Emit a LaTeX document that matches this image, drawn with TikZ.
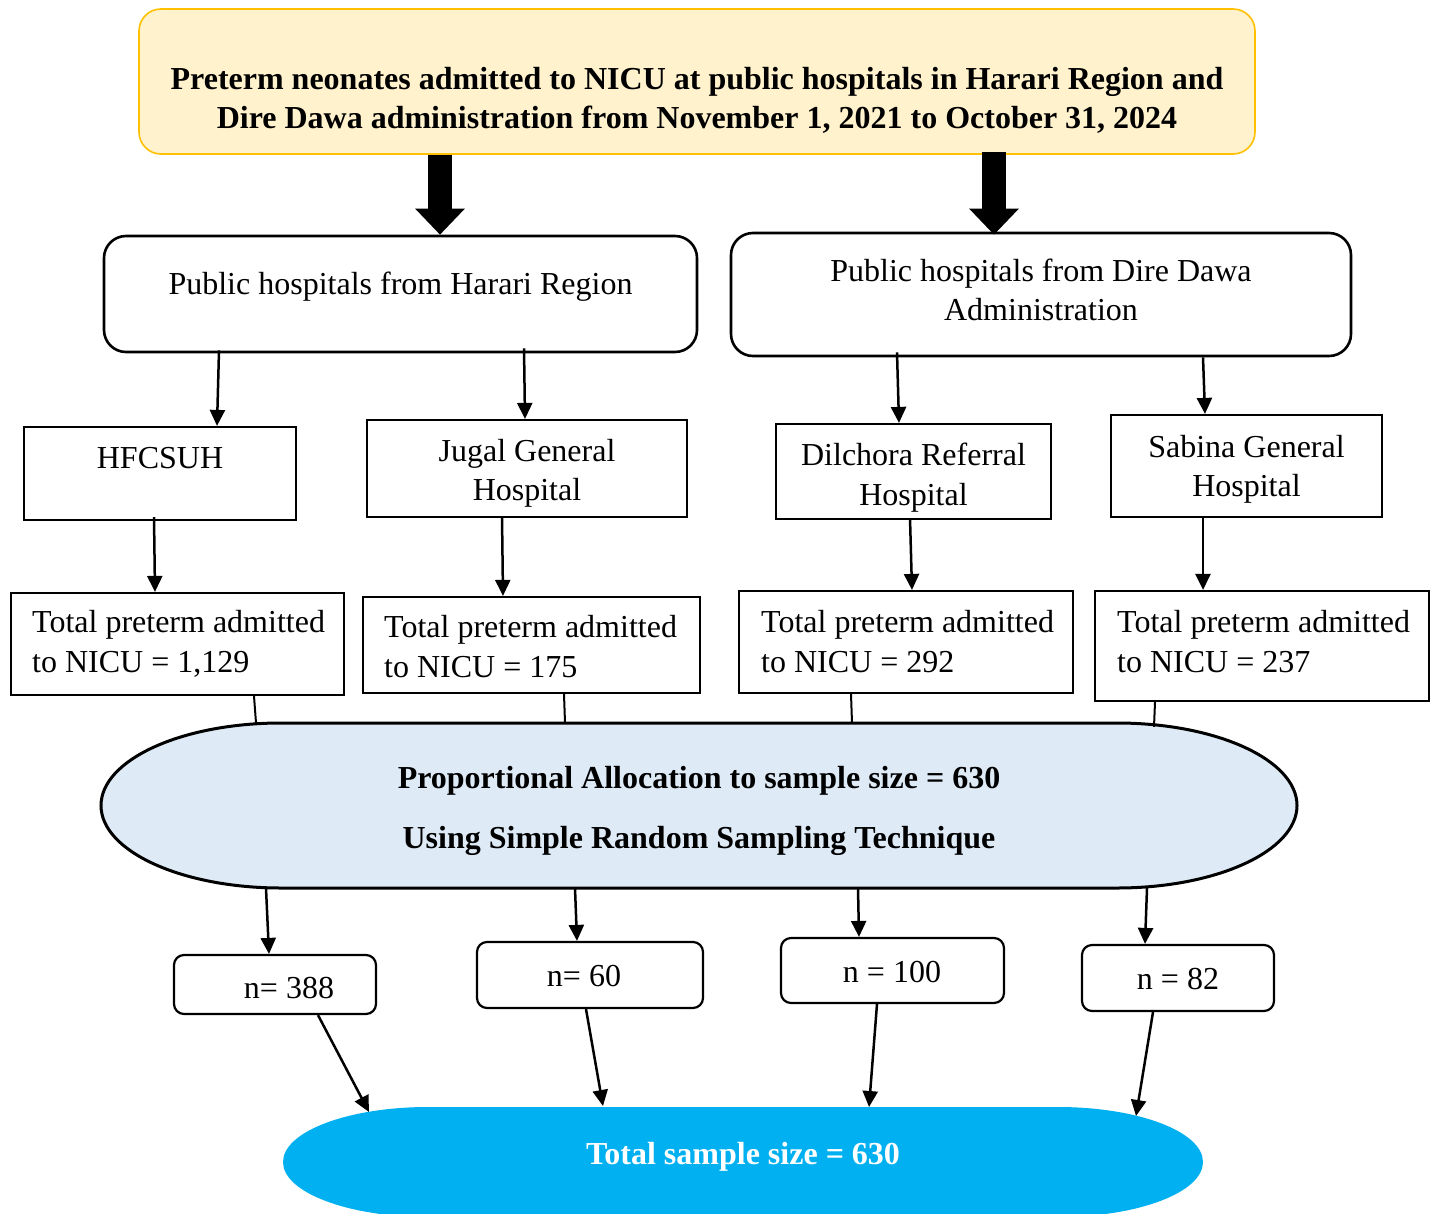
\documentclass[tikz,border=0pt]{standalone}
\usepackage{fontspec}
\setmainfont{Liberation Serif}
\usetikzlibrary{arrows.meta}
\definecolor{topfill}{HTML}{FFF2CC}
\definecolor{topline}{HTML}{FFC000}
\definecolor{allocfill}{HTML}{DEEBF7}
\definecolor{totfill}{HTML}{00B0F0}
\tikzset{
  every node/.style={font=\fontsize{32}{39.5}\selectfont},
  sqbox/.style={draw, line width=2.2pt, inner sep=0pt},
  rndbox/.style={draw, line width=2.6pt, rounded corners=22pt, inner sep=0pt},
  nbox/.style={draw, line width=2.2pt, rounded corners=10pt, inner sep=0pt},
  txt/.style={inner sep=0pt, align=center},
  ltxt/.style={inner sep=0pt, align=left},
  arr/.style={line width=2.5pt, -{Triangle[width=15pt,length=16pt]}},
  plainline/.style={line width=2pt},
  bigarrow/.style={line width=24pt, -{Triangle[width=48pt,length=26pt]}},
}
\begin{document}
\begin{tikzpicture}[x=1pt,y=-1pt]
\useasboundingbox (0,0) rectangle (1432,1213);
% top box
\node[draw=topline, fill=topfill, line width=1.6pt, rounded corners=22pt,
      minimum width=1116pt, minimum height=145pt, inner sep=0pt] (top) at (697,81.5) {};
\node[txt, font=\fontsize{32}{39.5}\selectfont\bfseries] (topT) at (697,100.5)
  {Preterm neonates admitted to NICU at public hospitals in Harari Region and\\
   Dire Dawa administration from November 1, 2021 to October 31, 2024};
% region boxes
\node[rndbox, minimum width=593pt, minimum height=116pt] (harari) at (400.5,294) {};
\node[txt] (harariT) at (400.5,287) {Public hospitals from Harari Region};
\node[rndbox, minimum width=620pt, minimum height=123pt] (dd) at (1041,294.5) {};
\node[txt] (ddT) at (1041,290) {Public hospitals from Dire Dawa\\Administration};
% hospitals
\node[sqbox, minimum width=272pt, minimum height=93pt] (hf) at (160,473.5) {};
\node[txt] (hfT) at (160,458) {HFCSUH};
\node[sqbox, minimum width=320pt, minimum height=97pt] (jg) at (527,468.5) {};
\node[txt] (jgT) at (527,473.5) {Jugal General\\Hospital};
\node[sqbox, minimum width=275pt, minimum height=95pt] (dl) at (913.5,471.5) {};
\node[txt] (dlT) at (913.5,477.5) {Dilchora Referral\\Hospital};
\node[sqbox, minimum width=271pt, minimum height=102pt] (sb) at (1246.5,466) {};
\node[txt] (sbT) at (1246.5,469.5) {Sabina General\\Hospital};
% totals
\node[sqbox, minimum width=333pt, minimum height=102pt] (t1) at (177.5,644) {};
\node[ltxt, anchor=west] (t1T) at (32,644) {Total preterm admitted\\to NICU = 1,129};
\node[sqbox, minimum width=337pt, minimum height=96pt] (t2) at (531.5,645) {};
\node[ltxt, anchor=west] (t2T) at (384,646.5) {Total preterm admitted\\to NICU = 175};
\node[sqbox, minimum width=334pt, minimum height=102pt] (t3) at (906,642) {};
\node[ltxt, anchor=west] (t3T) at (761,641.5) {Total preterm admitted\\to NICU = 292};
\node[sqbox, minimum width=334pt, minimum height=110pt] (t4) at (1262,646) {};
\node[ltxt, anchor=west] (t4T) at (1117,641.5) {Total preterm admitted\\to NICU = 237};
% allocation shape
\draw[fill=allocfill, line width=3pt]
  (281,723) -- (1117,723) .. controls (1216.4,723) and (1297,759.9) .. (1297,805.5)
  .. controls (1297,851.1) and (1216.4,888) .. (1117,888) -- (281,888)
  .. controls (181.6,888) and (101,851.1) .. (101,805.5)
  .. controls (101,759.9) and (181.6,723) .. (281,723) -- cycle;
\node[inner sep=0pt, minimum width=1196pt, minimum height=165pt] (alloc) at (699,805.5) {};
\node[txt, font=\fontsize{32}{60}\selectfont\bfseries] (allocT) at (699,810.5)
  {Proportional Allocation to sample size = 630\\Using Simple Random Sampling Technique};
% n boxes
\node[nbox, minimum width=202pt, minimum height=59pt] (n1) at (275,984.5) {};
\node[txt] (n1T) at (289,988.5) {n= 388};
\node[nbox, minimum width=226pt, minimum height=66pt] (n2) at (590,975) {};
\node[txt] (n2T) at (584,976) {n= 60};
\node[nbox, minimum width=223pt, minimum height=65pt] (n3) at (892.5,970.5) {};
\node[txt] (n3T) at (892,972) {n = 100};
\node[nbox, minimum width=192pt, minimum height=66pt] (n4) at (1178,978) {};
\node[txt] (n4T) at (1178,979.5) {n = 82};
% total sample shape
\begin{scope}
\clip (0,0) rectangle (1432,1213);
\fill[totfill]
  (428,1107) -- (1058,1107) .. controls (1138.1,1107) and (1203,1131.6) .. (1203,1162)
  .. controls (1203,1192.4) and (1138.1,1217) .. (1058,1217) -- (428,1217)
  .. controls (347.9,1217) and (283,1192.4) .. (283,1162)
  .. controls (283,1131.6) and (347.9,1107) .. (428,1107) -- cycle;
\end{scope}
\node[txt, text=white, font=\fontsize{32}{39.5}\selectfont\bfseries] (total) at (743,1157) {Total sample size = 630};
\coordinate (e1) at (369,1112);
\coordinate (e2) at (603,1106);
\coordinate (e3) at (869,1107);
\coordinate (e4) at (1136,1116);
% connectors
\draw[bigarrow] (top.south -| 440,0) -- (harari.north -| 440,0);
\draw[bigarrow] ([yshift=3pt]top.south -| 994,0) -- ([yshift=-3pt]dd.north -| 994,0);
\draw[arr] ([yshift=3pt]harari.south -| 219,0) -- (hf.north -| 217,0);
\draw[arr] ([yshift=5pt]harari.south -| 524,0) -- (jg.north -| 525,0);
\draw[arr] ([yshift=5pt]dd.south -| 897,0) -- (dl.north -| 899,0);
\draw[arr] (dd.south -| 1203,0) -- (sb.north -| 1205,0);
\draw[arr] ([yshift=4pt]hf.south -| 154,0) -- (t1.north -| 155,0);
\draw[arr] ([yshift=2pt]jg.south -| 502,0) -- (t2.north -| 503,0);
\draw[arr] ([yshift=2pt]dl.south -| 910,0) -- (t3.north -| 912,0);
\draw[arr] (sb.south -| 1203,0) -- (t4.north -| 1203,0);
\draw[plainline] (t1.south -| 254,0) -- (alloc.north -| 256,0);
\draw[plainline] (t2.south -| 564,0) -- (alloc.north -| 565,0);
\draw[plainline] (t3.south -| 851,0) -- (alloc.north -| 852,0);
\draw[plainline] (t4.south -| 1155,0) -- ([yshift=-4pt]alloc.north -| 1154,0);
\draw[arr] (alloc.south -| 266,0) -- (n1.north -| 269,0);
\draw[arr] (alloc.south -| 575,0) -- (n2.north -| 577,0);
\draw[arr] (alloc.south -| 858,0) -- (n3.north -| 859,0);
\draw[arr] (alloc.south -| 1147,0) -- (n4.north -| 1145,0);
\draw[arr] (n1.south -| 318,0) -- (e1);
\draw[arr] (n2.south -| 586,0) -- (e2);
\draw[arr] (n3.south -| 877,0) -- (e3);
\draw[arr] (n4.south -| 1153,0) -- (e4);
\end{tikzpicture}
\end{document}
